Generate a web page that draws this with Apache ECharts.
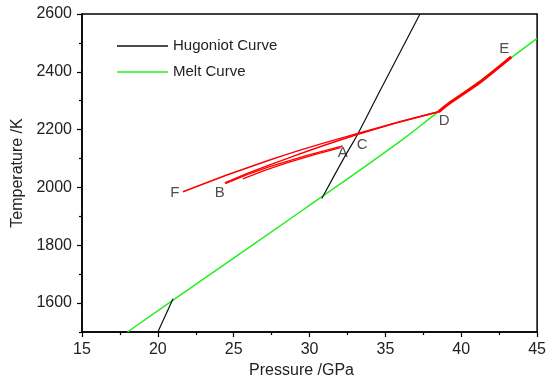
<!DOCTYPE html>
<html>
<head>
<meta charset="utf-8">
<script src="https://cdn.jsdelivr.net/npm/echarts@6/dist/echarts.min.js"></script>
<style>
	html, body { margin: 0; padding: 0; background: #fff; }
	#chart { width: 549px; height: 385px; }
</style>
</head>
<body>
<div id="chart"></div>
<script>
// 数据
const hugoniotLow = [[20.0, 1500], [21.0, 1615]]
const hugoniotHigh = [[30.81, 1962], [32.3, 2105], [33.18, 2185], [34.61, 2331], [37.28, 2600]]
const meltCurve = [[18.0, 1500], [21.0, 1610], [29.56, 1922], [35.92, 2158], [38.51, 2262], [41.18, 2366], [45.0, 2516]]

const pathFD = [[21.66, 1985], [27.37, 2095], [33.18, 2187], [38.51, 2262]]
const pathBD = [[24.41, 2016], [27.37, 2078], [33.3, 2186], [38.51, 2262]]
const pathBA = [[24.45, 2013], [27.37, 2072], [32.19, 2144]]
const pathBA2 = [[25.6, 2030], [28.5, 2085], [32.05, 2138]]
const pathDE = [[38.51, 2262], [39.21, 2291], [41.18, 2362], [43.3, 2452]]

const pointNames = ['F', 'B', 'A', 'C', 'D', 'E']
const pointX = [21.12, 24.08, 32.19, 33.47, 38.88, 42.83]
const pointY = [1980, 1980, 2118, 2147, 2230, 2481]

const yLabelValues = [1600, 1800, 2000, 2200, 2400, 2600]
const yMinorValues = [1500, 1700, 1900, 2100, 2300, 2500]

const legendList = ['Hugoniot Curve', 'Melt Curve']

const fontFamily = 'Liberation Sans, Arial, sans-serif'

const myChart = echarts.init(document.getElementById('chart'))

let labelData = pointNames.map((n, i) => ({ name: n, value: [pointX[i], pointY[i]] }))

function redLine(name, data, width, smooth) {
	return {
		name: name,
		type: 'line',
		data: data,
		smooth: smooth,
		symbol: 'none',
		z: 4,
		lineStyle: { color: '#ff0000', width: width },
	}
}

let option = {
	animation: false,
	textStyle: { fontFamily: fontFamily },
	grid: {
		left: 82,
		right: 11,
		top: 14,
		bottom: 53,
		show: true,
		borderColor: '#000',
		borderWidth: 1.5,
	},
	legend: {
		data: legendList,
		orient: 'vertical',
		left: 112,
		top: 32,
		icon: 'rect',
		itemWidth: 51,
		itemHeight: 1.6,
		itemGap: 8,
		selectedMode: false,
		textStyle: { fontSize: 15, color: '#222', fontFamily: fontFamily, lineHeight: 18 },
	},
	xAxis: {
		type: 'value',
		min: 15,
		max: 45,
		interval: 5,
		name: 'Pressure /GPa',
		nameLocation: 'middle',
		nameGap: 28,
		nameTextStyle: { fontSize: 16, color: '#222', padding: [0, 16, 0, 0] },
		axisLine: { lineStyle: { color: '#000', width: 1.5 } },
		axisTick: { length: 5, lineStyle: { color: '#000', width: 1.2 } },
		minorTick: { show: true, splitNumber: 2, length: 3, lineStyle: { color: '#000', width: 1.2 } },
		axisLabel: { fontSize: 16, color: '#222', margin: 10 },
		splitLine: { show: false },
	},
	yAxis: [
		{
			type: 'value',
			min: 1500,
			max: 2600,
			interval: 100,
			name: 'Temperature /K',
			nameLocation: 'middle',
			nameGap: 56,
			nameTextStyle: { fontSize: 16, color: '#222' },
			axisLine: { lineStyle: { color: '#000', width: 1.5 } },
			axisTick: { length: 5, customValues: yLabelValues, lineStyle: { color: '#000', width: 1.2 } },
			axisLabel: {
				fontSize: 16,
				color: '#222',
				margin: 10,
				customValues: yLabelValues,
				formatter: (v) => String(v),
			},
			splitLine: { show: false },
		},
		{
			// 次刻度
			type: 'value',
			min: 1500,
			max: 2600,
			interval: 100,
			position: 'left',
			axisLine: { show: false },
			axisTick: { length: 3, customValues: yMinorValues, lineStyle: { color: '#000', width: 1.2 } },
			axisLabel: { show: false },
			splitLine: { show: false },
		},
	],
	series: [
		{
			name: 'Melt Curve',
			type: 'line',
			data: meltCurve,
			smooth: true,
			symbol: 'none',
			z: 2,
			lineStyle: { color: '#22ee22', width: 1.5 },
			itemStyle: { color: '#22ee22' },
		},
		{
			name: 'Hugoniot Curve',
			type: 'line',
			data: hugoniotLow,
			symbol: 'none',
			z: 3,
			lineStyle: { color: '#111', width: 1.2 },
			itemStyle: { color: '#111' },
		},
		{
			name: 'Hugoniot Curve',
			type: 'line',
			data: hugoniotHigh,
			smooth: true,
			symbol: 'none',
			z: 3,
			lineStyle: { color: '#111', width: 1.2 },
			itemStyle: { color: '#111' },
		},
		redLine('F-D', pathFD, 1.5, true),
		redLine('B-D', pathBD, 1.5, true),
		redLine('B-A', pathBA, 1.3, true),
		redLine('B-A2', pathBA2, 1.3, true),
		redLine('D-E', pathDE, 3, 0.2),
		{
			name: 'points',
			type: 'scatter',
			data: labelData,
			symbolSize: 0,
			z: 5,
			label: {
				show: true,
				position: 'inside',
				formatter: (p) => p.name,
				fontSize: 15,
				color: '#222',
			},
		},
	],
}
myChart.setOption(option)
window.addEventListener('resize', () => {
	myChart.resize()
})
</script>
</body>
</html>
